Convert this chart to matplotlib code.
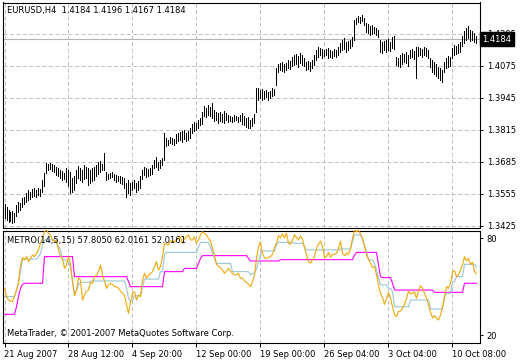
import matplotlib
matplotlib.use("Agg")
import matplotlib.pyplot as plt
from matplotlib.transforms import blended_transform_factory

plt.rcParams['font.family'] = ['DejaVu Sans']

symbol_title = "EURUSD,H4  1.4184 1.4196 1.4167 1.4184"
ind_title = "METRO(14,5,15) 57.8050 62.0161 52.0161"
copyright_text = "MetaTrader, \u00a9 2001-2007 MetaQuotes Software Corp."
bid_price = 1.4184
price_ticks = [1.3425, 1.3555, 1.3685, 1.3815, 1.3945, 1.4075, 1.4205]
ind_ticks = [20, 80]
date_labels = ["21 Aug 2007", "28 Aug 12:00", "4 Sep 20:00", "12 Sep 00:00",
               "19 Sep 00:00", "26 Sep 04:00", "3 Oct 04:00", "10 Oct 08:00"]
date_bar_index = [0, 32, 64, 96, 128, 160, 192, 224]

highs = [
    1.3514, 1.3502, 1.3490, 1.3482, 1.3486, 1.3478, 1.3510, 1.3522, 1.3518, 1.3539,
    1.3543, 1.3559, 1.3571, 1.3563, 1.3576, 1.3580, 1.3571, 1.3580, 1.3576, 1.3612,
    1.3640, 1.3681, 1.3677, 1.3681, 1.3677, 1.3673, 1.3665, 1.3661, 1.3652, 1.3648,
    1.3640, 1.3661, 1.3652, 1.3644, 1.3620, 1.3628, 1.3652, 1.3669, 1.3661, 1.3652,
    1.3673, 1.3665, 1.3661, 1.3652, 1.3661, 1.3665, 1.3673, 1.3685, 1.3689, 1.3677,
    1.3722, 1.3644, 1.3636, 1.3640, 1.3644, 1.3636, 1.3632, 1.3628, 1.3628, 1.3624,
    1.3620, 1.3600, 1.3612, 1.3600, 1.3604, 1.3612, 1.3600, 1.3608, 1.3628, 1.3652,
    1.3665, 1.3661, 1.3657, 1.3661, 1.3673, 1.3693, 1.3705, 1.3685, 1.3693, 1.3701,
    1.3803, 1.3783, 1.3774, 1.3787, 1.3783, 1.3779, 1.3799, 1.3803, 1.3807, 1.3811,
    1.3815, 1.3803, 1.3811, 1.3823, 1.3839, 1.3847, 1.3843, 1.3856, 1.3864, 1.3888,
    1.3913, 1.3905, 1.3917, 1.3909, 1.3923, 1.3896, 1.3888, 1.3884, 1.3888, 1.3880,
    1.3892, 1.3884, 1.3876, 1.3872, 1.3868, 1.3876, 1.3872, 1.3868, 1.3876, 1.3884,
    1.3872, 1.3864, 1.3868, 1.3856, 1.3864, 1.3880, 1.3986, 1.3986, 1.3977, 1.3982,
    1.3973, 1.3977, 1.3969, 1.3973, 1.3986, 1.3982, 1.4067, 1.4083, 1.4087, 1.4091,
    1.4083, 1.4087, 1.4099, 1.4095, 1.4112, 1.4120, 1.4124, 1.4116, 1.4128, 1.4120,
    1.4108, 1.4091, 1.4095, 1.4091, 1.4099, 1.4120, 1.4140, 1.4152, 1.4148, 1.4144,
    1.4140, 1.4144, 1.4148, 1.4140, 1.4136, 1.4144, 1.4140, 1.4152, 1.4169, 1.4181,
    1.4189, 1.4173, 1.4177, 1.4181, 1.4193, 1.4262, 1.4270, 1.4278, 1.4274, 1.4282,
    1.4270, 1.4250, 1.4246, 1.4238, 1.4242, 1.4233, 1.4229, 1.4221, 1.4181, 1.4173,
    1.4177, 1.4181, 1.4185, 1.4173, 1.4193, 1.4197, 1.4112, 1.4108, 1.4120, 1.4128,
    1.4124, 1.4132, 1.4120, 1.4140, 1.4144, 1.4136, 1.4152, 1.4152, 1.4148, 1.4144,
    1.4152, 1.4148, 1.4140, 1.4108, 1.4099, 1.4091, 1.4083, 1.4071, 1.4067, 1.4059,
    1.4091, 1.4108, 1.4116, 1.4112, 1.4148, 1.4160, 1.4156, 1.4164, 1.4173, 1.4197,
    1.4217, 1.4229, 1.4238, 1.4221, 1.4217, 1.4209, 1.4196,
]

lows = [
    1.3458, 1.3449, 1.3441, 1.3445, 1.3437, 1.3441, 1.3466, 1.3482, 1.3490, 1.3502,
    1.3514, 1.3522, 1.3531, 1.3535, 1.3543, 1.3547, 1.3543, 1.3551, 1.3547, 1.3563,
    1.3588, 1.3640, 1.3652, 1.3657, 1.3648, 1.3644, 1.3632, 1.3628, 1.3620, 1.3612,
    1.3616, 1.3604, 1.3588, 1.3559, 1.3563, 1.3571, 1.3600, 1.3620, 1.3612, 1.3604,
    1.3616, 1.3620, 1.3592, 1.3600, 1.3608, 1.3612, 1.3628, 1.3636, 1.3644, 1.3652,
    1.3652, 1.3612, 1.3616, 1.3620, 1.3624, 1.3612, 1.3604, 1.3608, 1.3600, 1.3596,
    1.3580, 1.3543, 1.3559, 1.3551, 1.3571, 1.3580, 1.3563, 1.3571, 1.3580, 1.3616,
    1.3632, 1.3624, 1.3628, 1.3632, 1.3636, 1.3661, 1.3665, 1.3652, 1.3661, 1.3673,
    1.3693, 1.3750, 1.3754, 1.3762, 1.3758, 1.3754, 1.3762, 1.3770, 1.3774, 1.3766,
    1.3779, 1.3770, 1.3774, 1.3783, 1.3803, 1.3811, 1.3815, 1.3823, 1.3835, 1.3839,
    1.3872, 1.3868, 1.3876, 1.3872, 1.3864, 1.3852, 1.3856, 1.3843, 1.3852, 1.3847,
    1.3843, 1.3856, 1.3847, 1.3852, 1.3847, 1.3852, 1.3856, 1.3847, 1.3852, 1.3839,
    1.3835, 1.3827, 1.3823, 1.3823, 1.3831, 1.3843, 1.3888, 1.3937, 1.3945, 1.3937,
    1.3941, 1.3949, 1.3937, 1.3945, 1.3953, 1.3957, 1.3998, 1.4051, 1.4059, 1.4055,
    1.4051, 1.4059, 1.4067, 1.4063, 1.4075, 1.4079, 1.4083, 1.4071, 1.4087, 1.4079,
    1.4075, 1.4059, 1.4063, 1.4055, 1.4067, 1.4079, 1.4099, 1.4112, 1.4120, 1.4108,
    1.4116, 1.4120, 1.4108, 1.4112, 1.4108, 1.4116, 1.4112, 1.4120, 1.4132, 1.4140,
    1.4144, 1.4132, 1.4140, 1.4148, 1.4156, 1.4181, 1.4246, 1.4254, 1.4250, 1.4258,
    1.4242, 1.4213, 1.4209, 1.4201, 1.4205, 1.4209, 1.4201, 1.4193, 1.4132, 1.4128,
    1.4140, 1.4132, 1.4140, 1.4136, 1.4148, 1.4144, 1.4079, 1.4075, 1.4071, 1.4083,
    1.4091, 1.4087, 1.4075, 1.4108, 1.4112, 1.4103, 1.4026, 1.4116, 1.4120, 1.4112,
    1.4120, 1.4116, 1.4108, 1.4071, 1.4051, 1.4042, 1.4034, 1.4026, 1.4018, 1.4010,
    1.4051, 1.4067, 1.4071, 1.4075, 1.4108, 1.4120, 1.4124, 1.4128, 1.4132, 1.4156,
    1.4169, 1.4181, 1.4189, 1.4177, 1.4181, 1.4173, 1.4167,
]

rsi = [
    48.9, 43.7, 41.6, 41.0, 40.6, 44.3, 47.8, 52.0, 63.3, 67.8,
    66.4, 68.5, 65.4, 67.4, 69.5, 68.5, 70.5, 72.6, 76.7, 79.8,
    83.9, 85.0, 82.9, 81.9, 78.8, 77.7, 78.8, 72.6, 68.5, 67.4,
    61.2, 63.3, 68.5, 64.3, 53.0, 44.3, 47.8, 55.5, 54.0, 41.6,
    44.8, 47.2, 47.8, 52.6, 52.0, 56.1, 57.1, 59.2, 63.3, 57.1,
    53.4, 48.9, 51.0, 52.0, 51.3, 49.9, 49.9, 48.9, 47.2, 45.8,
    44.8, 38.6, 33.4, 40.6, 45.8, 46.8, 41.6, 44.8, 43.7, 54.0,
    58.1, 55.1, 57.1, 58.1, 59.2, 62.3, 65.4, 60.2, 62.3, 68.5,
    76.7, 76.1, 75.7, 78.1, 78.1, 77.7, 78.8, 79.8, 80.8, 76.7,
    79.4, 80.8, 81.9, 78.8, 78.8, 80.8, 76.7, 78.8, 81.9, 83.9,
    82.9, 81.9, 79.8, 78.1, 73.6, 69.1, 63.7, 62.3, 61.7, 60.2,
    58.1, 59.6, 61.2, 59.6, 58.1, 57.1, 57.5, 58.1, 55.1, 55.1,
    53.4, 52.6, 51.3, 49.9, 53.0, 57.1, 67.4, 74.6, 77.7, 70.5,
    67.8, 67.4, 68.1, 68.5, 69.9, 74.0, 76.7, 81.4, 80.2, 82.5,
    80.2, 82.9, 76.7, 76.1, 78.8, 81.9, 80.2, 78.8, 81.2, 79.4,
    74.0, 69.5, 65.4, 64.5, 66.4, 68.5, 73.6, 76.1, 78.1, 74.6,
    67.8, 68.5, 71.1, 68.1, 69.9, 69.9, 70.5, 73.6, 78.1, 70.5,
    69.1, 70.5, 69.9, 73.2, 79.8, 85.0, 83.9, 84.7, 82.5, 79.8,
    75.3, 69.5, 67.0, 64.3, 61.7, 62.3, 57.1, 51.0, 45.8, 43.1,
    39.0, 42.7, 46.2, 43.1, 37.5, 32.8, 31.4, 34.5, 34.9, 36.5,
    39.0, 42.3, 47.2, 45.4, 45.8, 46.8, 42.7, 47.8, 50.5, 48.9,
    45.8, 42.7, 39.0, 34.0, 30.7, 32.0, 30.3, 29.3, 32.4, 37.5,
    43.7, 49.9, 48.9, 52.0, 59.2, 59.6, 56.1, 57.1, 60.2, 63.3,
    68.5, 65.8, 67.4, 63.7, 65.0, 59.2, 57.8,
]

step_fast = [
    43.7, 43.7, 43.7, 43.7, 43.7, 43.7, 47.8, 53.0, 59.2, 67.0,
    67.0, 67.0, 67.0, 67.0, 67.0, 67.0, 67.0, 68.5, 70.5, 75.7,
    78.8, 78.8, 78.8, 78.8, 78.8, 78.8, 76.7, 74.6, 72.6, 66.4,
    66.4, 66.4, 65.4, 61.2, 53.0, 45.8, 47.8, 51.0, 52.6, 52.6,
    52.6, 52.6, 52.6, 53.4, 53.4, 53.4, 53.4, 53.4, 53.4, 53.4,
    53.4, 53.4, 53.4, 53.4, 53.4, 53.4, 53.4, 53.4, 53.4, 53.4,
    53.4, 48.9, 42.7, 41.0, 41.0, 44.3, 44.3, 44.3, 44.3, 49.9,
    54.6, 54.6, 54.6, 54.6, 54.6, 54.6, 54.6, 54.6, 59.2, 59.2,
    69.9, 71.1, 71.1, 71.1, 71.1, 71.1, 71.1, 71.1, 71.1, 71.1,
    71.1, 71.1, 71.1, 71.1, 71.1, 71.1, 71.1, 74.6, 77.3, 77.3,
    77.3, 77.3, 77.3, 74.6, 70.5, 67.4, 64.3, 64.3, 64.3, 64.3,
    64.3, 64.3, 64.3, 64.3, 59.2, 59.2, 59.2, 59.2, 59.2, 59.2,
    59.2, 59.2, 59.2, 57.1, 58.2, 58.2, 61.2, 65.4, 69.5, 72.0,
    72.0, 72.0, 72.0, 72.0, 72.0, 72.0, 75.7, 77.3, 77.3, 77.3,
    77.3, 77.3, 77.3, 77.3, 77.3, 76.7, 76.7, 76.7, 76.7, 76.7,
    74.6, 72.6, 72.6, 72.6, 72.6, 72.6, 72.6, 72.6, 72.6, 72.6,
    72.6, 72.6, 72.6, 72.6, 72.6, 72.6, 72.6, 72.6, 73.2, 73.2,
    73.2, 73.2, 73.2, 73.2, 77.7, 81.9, 81.9, 81.9, 81.9, 78.8,
    74.6, 72.0, 66.4, 66.4, 66.4, 64.3, 60.2, 55.1, 51.0, 51.0,
    51.0, 51.0, 48.9, 48.9, 46.8, 37.5, 37.5, 37.5, 37.5, 37.5,
    37.5, 37.5, 37.5, 41.7, 41.7, 41.7, 41.7, 41.7, 41.7, 41.7,
    41.7, 41.7, 41.7, 36.1, 36.1, 36.1, 36.1, 36.1, 36.1, 36.1,
    43.7, 45.8, 45.8, 45.8, 53.0, 53.0, 56.1, 56.1, 56.1, 56.1,
    63.7, 63.7, 63.7, 63.7, 63.7, 63.7, 62.0,
]

step_slow = [
    32.8, 32.8, 32.8, 32.8, 32.8, 32.8, 37.5, 43.7, 48.9, 51.3,
    52.0, 52.0, 52.0, 52.0, 52.0, 52.0, 52.0, 52.0, 52.0, 52.0,
    68.5, 68.5, 68.5, 68.5, 68.5, 68.5, 68.5, 68.5, 68.5, 68.5,
    68.5, 68.5, 68.5, 68.5, 68.5, 56.1, 56.1, 56.1, 56.1, 56.1,
    56.1, 56.1, 56.1, 56.1, 56.1, 56.1, 56.1, 56.1, 56.1, 56.1,
    56.1, 56.1, 56.1, 56.1, 56.1, 56.1, 56.1, 56.1, 56.1, 56.1,
    56.1, 56.1, 53.0, 49.9, 49.9, 49.9, 49.9, 49.9, 49.9, 49.9,
    49.9, 49.9, 49.9, 49.9, 49.9, 49.9, 49.9, 49.9, 49.9, 49.9,
    59.2, 59.2, 59.2, 59.2, 59.2, 59.2, 59.2, 59.2, 59.2, 59.2,
    61.2, 61.2, 61.2, 61.2, 61.2, 61.2, 61.2, 64.3, 67.4, 69.1,
    69.1, 69.1, 69.1, 69.1, 69.1, 69.1, 69.1, 69.1, 69.1, 69.1,
    69.1, 69.1, 69.1, 69.1, 69.1, 69.1, 69.1, 69.1, 69.1, 69.1,
    69.1, 69.1, 67.4, 65.8, 65.8, 65.8, 65.8, 65.8, 65.8, 65.8,
    65.8, 65.8, 65.8, 65.8, 65.8, 65.8, 65.8, 65.8, 66.6, 66.6,
    66.6, 66.6, 66.6, 66.6, 66.6, 66.6, 66.6, 66.6, 66.6, 66.6,
    66.6, 66.6, 66.6, 66.6, 66.6, 66.6, 66.6, 66.6, 66.6, 66.6,
    66.6, 66.6, 66.6, 66.6, 66.6, 66.6, 66.6, 66.6, 66.6, 66.6,
    66.6, 66.6, 66.6, 66.6, 66.6, 69.5, 71.1, 71.1, 71.1, 71.1,
    71.1, 71.1, 71.1, 71.1, 71.1, 71.1, 71.1, 63.3, 56.1, 55.5,
    55.5, 55.5, 55.5, 55.5, 52.0, 47.8, 47.8, 47.8, 47.8, 47.8,
    47.8, 47.8, 47.8, 47.8, 47.8, 47.8, 47.8, 47.8, 47.8, 47.8,
    47.8, 47.8, 47.8, 47.8, 47.8, 46.4, 46.4, 46.4, 46.4, 46.4,
    46.4, 46.4, 46.4, 46.4, 46.4, 46.4, 46.4, 46.4, 46.4, 46.4,
    52.0, 52.0, 52.0, 52.0, 52.0, 52.0, 52.0,
]

W, H = 520, 360
fig = plt.figure(figsize=(W / 100, H / 100), dpi=100)
fig.patch.set_facecolor('white')


def px_rect(x0, y0, x1, y1):
    return [x0 / W, 1 - y1 / H, (x1 - x0) / W, (y1 - y0) / H]


ax = fig.add_axes(px_rect(2.5, 2.5, 480.5, 227.5))
ax2 = fig.add_axes(px_rect(2.5, 230.5, 480.5, 342.5))

GRID = '#c0c0c0'
FS = 6.0
n = len(highs)
xs = list(range(n))

for a in (ax, ax2):
    a.set_xlim(-1.0, 238.0)
    for s in a.spines.values():
        s.set_color('black')
        s.set_linewidth(0.8)
    for xi in date_bar_index:
        a.axvline(xi, color=GRID, lw=0.72, ls=(0, (4, 2.5)), zorder=0)

ax.set_ylim(1.34189, 1.43329)
for p in price_ticks:
    ax.axhline(p, color=GRID, lw=0.72, ls=(0, (4, 2.5)), zorder=0)
ax.axhline(bid_price, color='#b4b4b4', lw=0.8, zorder=1)

ax.vlines(xs, lows, highs, colors='black', linewidth=0.72, antialiased=False, zorder=3)

ax.set_xticks([])
ax.yaxis.tick_right()
ax.set_yticks(price_ticks)
ax.set_yticklabels([f"{p:.4f}" for p in price_ticks])
ax.tick_params(axis='y', direction='out', length=2.5, width=0.7, pad=2,
               labelsize=FS, colors='black')

tr = blended_transform_factory(ax.transAxes, ax.transData)
ax.text(1.004, bid_price, "1.4184", transform=tr, ha='left', va='center',
        fontsize=FS, color='white', zorder=20, clip_on=False,
        bbox=dict(boxstyle='square,pad=0.3', fc='black', ec='black'))

fig.text(7 / W, 1 - 11 / H, symbol_title, fontsize=FS, ha='left', va='center')

# indicator panel
ax2.set_ylim(15.37, 84.64)
ax2.plot(xs, step_slow, color='#ff00ff', lw=0.8, zorder=3)
ax2.plot(xs, step_fast, color='#98c6d8', lw=0.8, zorder=4)
ax2.plot(xs, rsi, color='#f0a80a', lw=0.8, zorder=5)

ax2.yaxis.tick_right()
ax2.set_yticks(ind_ticks)
ax2.set_yticklabels([str(v) for v in ind_ticks])
ax2.tick_params(axis='y', direction='out', length=2.5, width=0.7, pad=2,
                labelsize=FS, colors='black')
ax2.set_xticks(date_bar_index)
ax2.set_xticklabels(date_labels)
ax2.tick_params(axis='x', direction='out', length=3, width=0.7, pad=2.5,
                labelsize=FS, colors='black')
for lab in ax2.get_xticklabels():
    lab.set_horizontalalignment('left')

fig.text(7 / W, 1 - 240 / H, ind_title, fontsize=FS, ha='left', va='center')
fig.text(7 / W, 1 - 334 / H, copyright_text, fontsize=FS, ha='left', va='center')

fig.savefig("out.png", dpi=100, facecolor='white')
